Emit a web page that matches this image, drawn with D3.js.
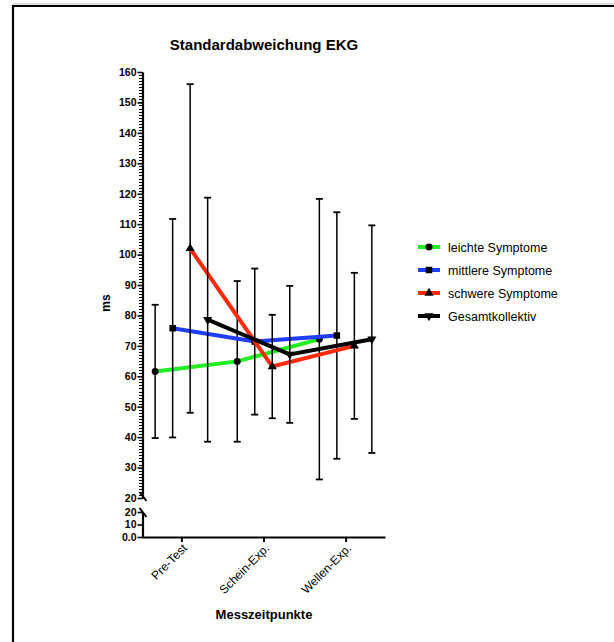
<!DOCTYPE html>
<html>
<head>
<meta charset="utf-8">
<script src="https://cdn.jsdelivr.net/npm/d3@7"></script>
<style>
  html, body { margin: 0; padding: 0; background: #fff; }
  svg { display: block; font-family: "Liberation Sans", Arial, Helvetica, sans-serif; }
</style>
</head>
<body>
<svg id="chart" width="614" height="642"></svg>
<script>
// ---- Data ----
const categories = ["Pre-Test", "Schein-Exp.", "Wellen-Exp."];
const seriesNames = ["leichte Symptome", "mittlere Symptome", "schwere Symptome", "Gesamtkollektiv"];
const seriesColors = ["#22ee22", "#1f3cff", "#ff2a0a", "#000000"];
const seriesSymbols = ["circle", "square", "triangleUp", "triangleDown"];
const leichteMean = [61.6, 64.9, 72.2];
const leichteSD   = [21.9, 26.4, 46.1];
const mittlereMean = [75.8, 71.4, 73.4];
const mittlereSD   = [35.9, 24.0, 40.5];
const schwereMean = [102.0, 63.2, 70.0];
const schwereSD   = [54.0, 17.0, 24.0];
const gesamtMean = [78.6, 67.2, 72.2];
const gesamtSD   = [40.1, 22.5, 37.4];
const upperTicks = [20, 30, 40, 50, 60, 70, 80, 90, 100, 110, 120, 130, 140, 150, 160];
const lowerTicks = [0, 10, 20];
const lowerTickLabels = ["0.0", "10", "20"];
const titleText = "Standardabweichung EKG";
const yTitle = "ms";
const xTitle = "Messzeitpunkte";

const means = [leichteMean, mittlereMean, schwereMean, gesamtMean];
const sds = [leichteSD, mittlereSD, schwereSD, gesamtSD];

const svg = d3.select("#chart");

// Frame
svg.append("path").attr("d", "M13,642V6H614").attr("fill", "none").attr("stroke", "#000").attr("stroke-width", 2.2);
svg.append("line").attr("x1", 13).attr("x2", 614).attr("y1", 4).attr("y2", 4).attr("stroke", "#bbb").attr("stroke-width", 1);

// Scales
const axisX = 142.5;
const yUp = d3.scaleLinear().domain([20, 160]).range([498, 72]);
const yLow = d3.scaleLinear().domain([0, 20]).range([537, 512]);
const x = d3.scalePoint().domain(categories).range([142, 385]).padding(0.48);
const off = d3.scaleBand().domain(seriesNames).range([-35, 35]);
const sx = (ci, si) => x(categories[ci]) + off(seriesNames[si]) + off.bandwidth() / 2;

// Title
svg.append("text").attr("x", 264).attr("y", 50).attr("text-anchor", "middle")
  .attr("font-size", 15).attr("font-weight", "bold").text(titleText);

// Upper Y axis (major)
const gUp = svg.append("g").attr("transform", `translate(${axisX},0)`);
gUp.call(d3.axisLeft(yUp).tickValues(upperTicks).tickSize(5).tickSizeOuter(0).tickFormat(d3.format("d")));
// minor ticks
gUp.append("g").attr("class", "minor").call(d3.axisLeft(yUp).tickValues(d3.range(20, 161, 1)).tickSize(3.5).tickSizeOuter(0).tickFormat(""))
  .call(g => g.select(".domain").remove());
// Lower Y axis
const gLow = svg.append("g").attr("transform", `translate(${axisX},0)`);
gLow.call(d3.axisLeft(yLow).tickValues(lowerTicks).tickSize(5).tickSizeOuter(0).tickFormat((d, i) => lowerTickLabels[i]));

[gUp, gLow].forEach(g => {
  g.selectAll(".domain").attr("stroke-width", 2.2);
  g.selectAll(".tick line").attr("stroke-width", 1.6);
  g.selectAll(".tick text").attr("font-size", 10.5).attr("font-weight", "bold").attr("x", -6)
    .attr("font-family", "Liberation Sans, Arial, sans-serif").attr("fill", "#000");
});
gUp.selectAll(".minor .tick line").attr("stroke-width", 1).attr("shape-rendering", "crispEdges").attr("stroke", "#000");
// Break marks
[yUp(20) - 1, yLow(20) + 1].forEach(yy => {
  svg.append("line").attr("x1", axisX - 3).attr("y1", yy - 5).attr("x2", axisX + 4).attr("y2", yy + 4)
    .attr("stroke", "#000").attr("stroke-width", 2);
});

// X axis
const gX = svg.append("g").attr("transform", `translate(0,${yLow(0)})`);
gX.call(d3.axisBottom(x).tickSize(5).tickSizeOuter(0));
gX.selectAll(".domain").attr("stroke-width", 2.2);
gX.selectAll(".tick line").attr("stroke-width", 2);
gX.selectAll(".tick text")
  .attr("font-size", 12).attr("font-weight", "normal").attr("fill", "#000")
  .attr("font-family", "Liberation Sans, Arial, sans-serif")
  .attr("text-anchor", "end").attr("dy", null).attr("y", 0)
  .attr("transform", "translate(6,12) rotate(-45)");

// Axis titles
svg.append("text").attr("transform", `translate(110,303) rotate(-90)`).attr("text-anchor", "middle")
  .attr("font-size", 12).attr("font-weight", "bold").text(yTitle);
svg.append("text").attr("x", 264).attr("y", 619).attr("text-anchor", "middle")
  .attr("font-size", 13).attr("font-weight", "bold").text(xTitle);

// Symbols
const symType = { circle: d3.symbolCircle, square: d3.symbolSquare, triangleUp: d3.symbolTriangle, triangleDown: d3.symbolTriangle };
function drawSymbol(g, kind, cx, cy) {
  const size = kind === "circle" ? 38 : (kind === "square" ? 42 : 36);
  const rot = kind === "triangleDown" ? 180 : 0;
  g.append("path").attr("d", d3.symbol().type(symType[kind]).size(size)())
    .attr("transform", `translate(${cx},${cy}) rotate(${rot})`).attr("fill", "#000");
}

// Series
const plot = svg.append("g");
seriesNames.forEach((name, si) => {
  const g = plot.append("g");
  const m = means[si], s = sds[si];
  // error bars
  m.forEach((v, ci) => {
    const cx = sx(ci, si);
    const top = yUp(v + s[ci]), bot = yUp(v - s[ci]);
    g.append("line").attr("x1", cx).attr("x2", cx).attr("y1", top).attr("y2", bot).attr("stroke", "#000").attr("stroke-width", 1.5);
    [top, bot].forEach(yy => g.append("line").attr("x1", cx - 3.5).attr("x2", cx + 3.5).attr("y1", yy).attr("y2", yy)
      .attr("stroke", "#000").attr("stroke-width", 1.8));
  });
  // line
  g.append("path").datum(m)
    .attr("d", d3.line().x((d, ci) => sx(ci, si)).y(d => yUp(d)))
    .attr("fill", "none").attr("stroke", seriesColors[si]).attr("stroke-width", 4);
  // markers
  m.forEach((v, ci) => drawSymbol(g, seriesSymbols[si], sx(ci, si), yUp(v)));
});

// Legend
const legend = svg.append("g");
const legY = d3.scalePoint().domain(seriesNames).range([247, 316]);
seriesNames.forEach((name, si) => {
  const yy = legY(name);
  legend.append("line").attr("x1", 418).attr("x2", 440).attr("y1", yy).attr("y2", yy)
    .attr("stroke", seriesColors[si]).attr("stroke-width", 4);
  drawSymbol(legend, seriesSymbols[si], 429, yy);
  legend.append("text").attr("x", 448).attr("y", yy + 4.5).attr("font-size", 12.5).text(name);
});
</script>
</body>
</html>
